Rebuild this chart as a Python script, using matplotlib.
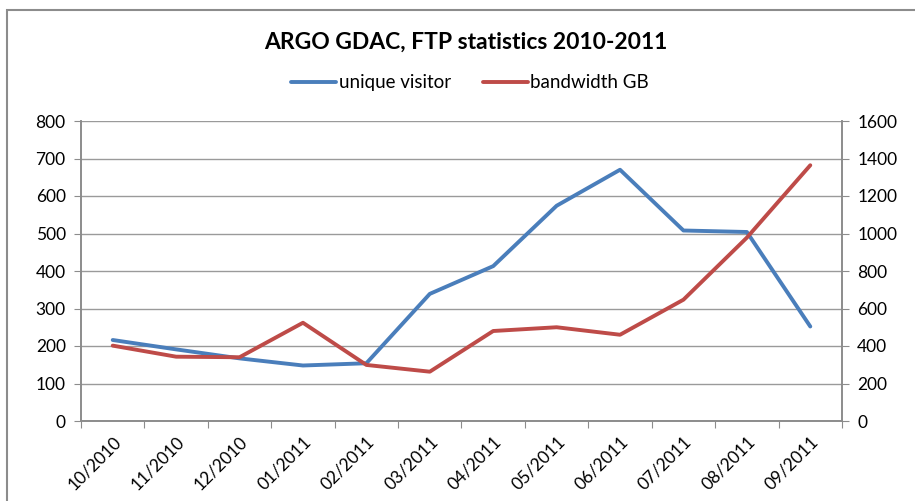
import matplotlib
matplotlib.use("Agg")
import matplotlib.pyplot as plt
from matplotlib.patches import Rectangle
import numpy as np

months = ["10/2010", "11/2010", "12/2010", "01/2011", "02/2011", "03/2011",
          "04/2011", "05/2011", "06/2011", "07/2011", "08/2011", "09/2011"]
unique_visitor = [216, 191, 167, 148, 154, 339, 413, 574, 670, 508, 504, 252]
bandwidth_gb = [402, 343, 340, 524, 299, 263, 480, 500, 460, 647, 978, 1364]
left_ticks = [0, 100, 200, 300, 400, 500, 600, 700, 800]
right_ticks = [0, 200, 400, 600, 800, 1000, 1200, 1400, 1600]

plt.rcParams['font.family'] = ['Lato', 'DejaVu Sans']

fig = plt.figure(figsize=(9.15, 5.01), dpi=100)
fig.patches.append(Rectangle((7/915, -0.1), 1.2, 1 - 10/501 + 0.1,
                             transform=fig.transFigure, fill=False,
                             edgecolor='#8c8c8c', linewidth=1.5))

ax = fig.add_axes([81/915, 1 - 421/501, (842 - 81)/915, 300/501])
ax2 = ax.twinx()

x = np.arange(len(months))
blue = '#4A7EBB'
red = '#BE4B48'
l1, = ax.plot(x, unique_visitor, color=blue, linewidth=2.8, solid_capstyle='round')
l2, = ax2.plot(x, bandwidth_gb, color=red, linewidth=2.8, solid_capstyle='round')

ax.set_xlim(-0.5, len(months) - 0.5)
ax.set_ylim(0, 800)
ax2.set_ylim(0, 1600)
ax.set_yticks(left_ticks)
ax2.set_yticks(right_ticks)
ax.yaxis.grid(True, color='#9a9a9a', linewidth=1)
ax.set_axisbelow(True)

ax.set_xticks(np.arange(-0.5, len(months), 1.0))
ax.set_xticklabels([])
ax.set_xticks(x, minor=True)
ax.set_xticklabels(months, minor=True, rotation=45, ha='right', va='top',
                   rotation_mode='anchor', fontsize=12.5)
ax.tick_params(axis='x', which='minor', length=0, pad=9)
ax.tick_params(axis='x', which='major', length=5, color='#8c8c8c', direction='out')
ax.tick_params(axis='y', length=5, color='#8c8c8c', labelsize=12.5, pad=6)
ax2.tick_params(axis='y', length=5, color='#8c8c8c', labelsize=12.5, pad=6)

for a in (ax, ax2):
    a.spines['top'].set_visible(False)
    for s in ('left', 'right', 'bottom'):
        a.spines[s].set_color('#8c8c8c')
        a.spines[s].set_linewidth(1.2)

fig.text(466/915, 1 - 42/501, "ARGO GDAC, FTP statistics 2010-2011",
         ha='center', va='center', fontsize=16.5, fontweight='bold')
leg = fig.legend([l1, l2], ["unique visitor", "bandwidth GB"], loc='center',
                 bbox_to_anchor=(470/915, 1 - 83/501), ncol=2, frameon=False,
                 fontsize=13.5, handlelength=2.4, columnspacing=1.7, handletextpad=0.15)
for line in leg.get_lines():
    line.set_linewidth(2.8)

fig.savefig("out.png", dpi=100)
